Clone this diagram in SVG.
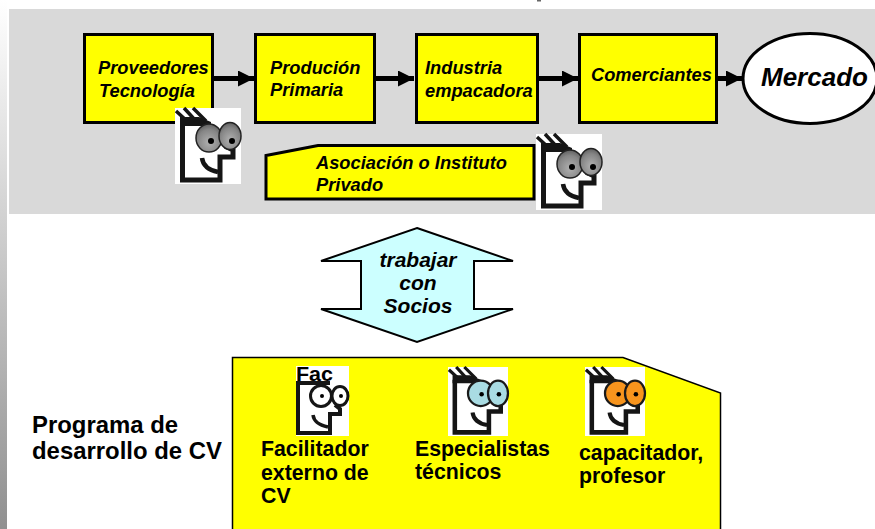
<svg xmlns="http://www.w3.org/2000/svg" width="875" height="529" viewBox="0 0 875 529">
<style>
text{font-family:"Liberation Sans",Arial,sans-serif;font-weight:bold;fill:#000}
.i{font-style:italic}
.s{font-size:18.3px}
.t{font-size:21px}
.b{font-size:21.3px}
.p{font-size:23.9px}
.box{fill:#ff0;stroke:#000;stroke-width:3}
.line{stroke:#000;stroke-width:5;fill:none}
.ink{fill:none;stroke:#151515;stroke-linecap:butt}
.pu{fill:#000}
.e1{stroke:#222;stroke-width:1.5;fill:url(#grey)}
.e2{stroke:#1a1a1a;stroke-width:2.5}
</style>
<defs>
<linearGradient id="side" x1="0" y1="0" x2="0" y2="1"><stop offset="0" stop-color="#fff"/><stop offset="1" stop-color="#909090"/></linearGradient>
<radialGradient id="grey" cx="0.5" cy="0.65" r="0.65"><stop offset="0" stop-color="#b0b0b0"/><stop offset="0.7" stop-color="#858585"/><stop offset="1" stop-color="#5f5f5f"/></radialGradient>
<marker id="head" markerUnits="userSpaceOnUse" markerWidth="17" markerHeight="16" refX="16" refY="8" orient="auto"><path d="M0 0L16 8L0 16Z" fill="#000"/></marker>
<g id="face">
<rect width="66" height="76" fill="#fff"/>
<path class="ink" stroke-width="5" d="M7.500 14V72H45V49H58V42L50 38"/>
<path d="M5 9H24L36 14V18H5Z" fill="#151515"/>
<path class="ink" stroke-width="4.500" d="M27 50C28 58 33 62 43 64"/>
<path class="ink" stroke-width="3.500" d="M1 3L12 13M9 0L21 13M18 0L31 13"/>
</g>
</defs>
<rect x="0" y="0" width="7" height="529" fill="url(#side)"/>
<rect x="537" y="0" width="4" height="1.500" fill="#666"/>
<rect id="panel" x="9" y="9" width="866" height="205" fill="#d9d9d9"/>
<g id="connectors">
<path class="line" d="M214 78.500H254" marker-end="url(#head)"/>
<path class="line" d="M376 78.500H414" marker-end="url(#head)"/>
<path class="line" d="M539 78.500H578" marker-end="url(#head)"/>
<path class="line" d="M718 78.500H742" marker-end="url(#head)"/>
</g>
<g id="n1"><rect class="box" x="84.500" y="34.500" width="128" height="88"/><text class="i s" x="98" y="74">Proveedores</text><text class="i s" x="99" y="97">Tecnología</text></g>
<g id="n2"><rect class="box" x="255.500" y="34.500" width="119" height="88"/><text class="i s" x="270" y="74">Produción</text><text class="i s" x="270" y="96">Primaria</text></g>
<g id="n3"><rect class="box" x="416.500" y="34.500" width="121" height="88"/><text class="i s" x="425" y="74">Industria</text><text class="i s" x="425" y="97">empacadora</text></g>
<g id="n4"><rect class="box" x="579.500" y="34.500" width="137" height="88"/><text class="i s" x="591" y="81">Comerciantes</text></g>
<g id="n5"><ellipse cx="810" cy="78.500" rx="67" ry="45" fill="#fff" stroke="#000" stroke-width="3"/><text class="i" font-size="26" x="761" y="86">Mercado</text></g>
<g id="icon1" transform="translate(175 108)"><use href="#face"/><ellipse class="e1" cx="34" cy="30" rx="13" ry="14"/><ellipse class="e1" cx="55" cy="28" rx="11" ry="13.500"/><circle class="pu" cx="36" cy="33" r="3"/><circle class="pu" cx="57" cy="33" r="3"/></g>
<g id="n6"><path class="box" d="M266 155.500L318 145.500H534V199H266Z"/><text class="i s" x="316" y="169">Asociación o Instituto</text><text class="i s" x="316" y="191">Privado</text></g>
<g id="icon2" transform="translate(536 134)"><use href="#face"/><ellipse class="e1" cx="34" cy="30" rx="13" ry="14"/><ellipse class="e1" cx="55" cy="28" rx="11" ry="13.500"/><circle class="pu" cx="36" cy="33" r="3"/><circle class="pu" cx="57" cy="33" r="3"/></g>
<g id="n7"><path d="M417 228L513 261H474V309H513L417 342L321 309H361V261H321Z" fill="#ccffff" stroke="#000" stroke-width="2"/><text class="i t" text-anchor="middle" x="418" y="267">trabajar</text><text class="i t" text-anchor="middle" x="418" y="290">con</text><text class="i t" text-anchor="middle" x="418" y="313">Socios</text></g>
<g id="n8"><text class="p" x="32" y="433">Programa de</text><text class="p" x="32" y="459">desarrollo de CV</text></g>
<g id="n9"><path d="M232.500 357.500H623L720.500 393V530H232.500Z" fill="#ff0" stroke="#000" stroke-width="1.500"/></g>
<g id="n10"><rect x="296" y="366" width="53" height="70" fill="#fff"/><text font-size="19.5" x="296" y="380.500" fill="#222" textLength="37" lengthAdjust="spacingAndGlyphs">Fac</text>
<path class="ink" stroke-width="4" d="M298 383V433H330V414H340V409L335 405"/><path d="M296 381H330V385H296Z" fill="#151515"/><path class="ink" stroke-width="3.500" d="M313 415C314 422 319 425 328 427"/>
<ellipse cx="321" cy="396" rx="10.500" ry="10.500" fill="#fff" stroke="#151515" stroke-width="3"/><ellipse cx="340" cy="396" rx="8" ry="9.500" fill="#fff" stroke="#151515" stroke-width="3"/><circle class="pu" cx="322" cy="396" r="2"/><circle class="pu" cx="341" cy="396" r="2"/>
<text class="b" x="261" y="456">Facilitador</text><text class="b" x="261" y="480">externo de</text><text class="b" x="261" y="503">CV</text></g>
<g id="n11"><g transform="translate(448 367) scale(.909 .908)"><use href="#face"/><ellipse class="e2" cx="36" cy="29" rx="14" ry="14" fill="#a9dce3"/><ellipse class="e2" cx="55" cy="29" rx="11" ry="14" fill="#a9dce3"/><circle class="pu" cx="37" cy="30" r="2.500"/><circle class="pu" cx="56" cy="30" r="2.500"/></g><text class="b" x="415" y="456">Especialistas</text><text class="b" x="415" y="479">técnicos</text></g>
<g id="n12"><g transform="translate(585 367) scale(.909 .908)"><use href="#face"/><ellipse class="e2" cx="36" cy="29" rx="14" ry="14" fill="#f7941d"/><ellipse class="e2" cx="55" cy="29" rx="11" ry="14" fill="#f7941d"/><circle class="pu" cx="37" cy="30" r="2.500"/><circle class="pu" cx="56" cy="30" r="2.500"/></g><text class="b" x="579" y="460">capacitador,</text><text class="b" x="579" y="483">profesor</text></g>
</svg>
